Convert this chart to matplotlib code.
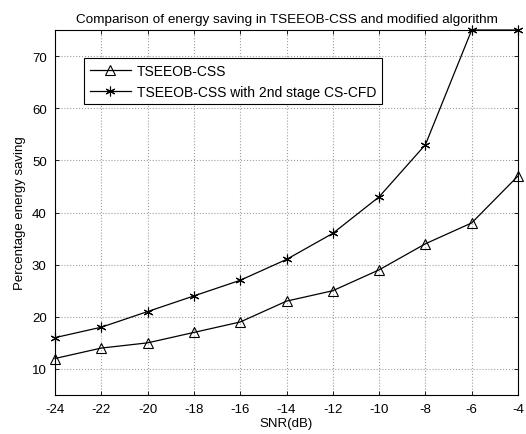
import matplotlib
matplotlib.use("Agg")
import matplotlib.pyplot as plt

snr = [-24, -22, -20, -18, -16, -14, -12, -10, -8, -6, -4]
tseeob = [12, 14, 15, 17, 19, 23, 25, 29, 34, 38, 47]
tseeob_cfd = [16, 18, 21, 24, 27, 31, 36, 43, 53, 75, 75]
xticks = [-24, -22, -20, -18, -16, -14, -12, -10, -8, -6, -4]
yticks = [10, 20, 30, 40, 50, 60, 70]

plt.rcParams['font.family'] = ['Liberation Sans', 'DejaVu Sans']
plt.rcParams['axes.unicode_minus'] = False
fig = plt.figure(figsize=(5.26, 4.35), dpi=100)
ax = fig.add_axes([55/526, 1 - 396/435, (518-55)/526, (396-31)/435])

ax.plot(snr, tseeob, color='black', lw=0.9, marker='^', ms=7.5, mfc='none', mec='black', mew=0.8,
        label='TSEEOB-CSS', clip_on=False)
ax.plot(snr, tseeob_cfd, color='black', lw=0.9, marker=(6, 2, 0), ms=7, mec='black', mew=0.8,
        label='TSEEOB-CSS with 2nd stage CS-CFD', clip_on=False)

ax.set_xlim(-24, -4)
ax.set_ylim(5, 75)
ax.set_xticks(xticks)
ax.set_yticks(yticks)
ax.tick_params(direction='in', top=True, right=True, length=3, width=0.6, labelsize=9.5, pad=6)
ax.grid(True, color='#a0a0a0', linestyle=':', linewidth=0.8)
for s in ax.spines.values():
    s.set_linewidth(0.8)

ax.set_title('Comparison of energy saving in TSEEOB-CSS and modified algorithm', fontsize=9.7, pad=6)
ax.set_xlabel('SNR(dB)', fontsize=9.5, labelpad=1)
ax.set_ylabel('Percentage energy saving', fontsize=9.5, labelpad=4)

leg = ax.legend(loc='upper left', bbox_to_anchor=((84-55)/463, (396-59)/365), fontsize=10,
                fancybox=False, edgecolor='black', framealpha=1, borderpad=0.4,
                handlelength=3.0, handletextpad=0.4, labelspacing=0.5, borderaxespad=0)
leg.get_frame().set_linewidth(0.8)

fig.savefig('out.png', dpi=100)
